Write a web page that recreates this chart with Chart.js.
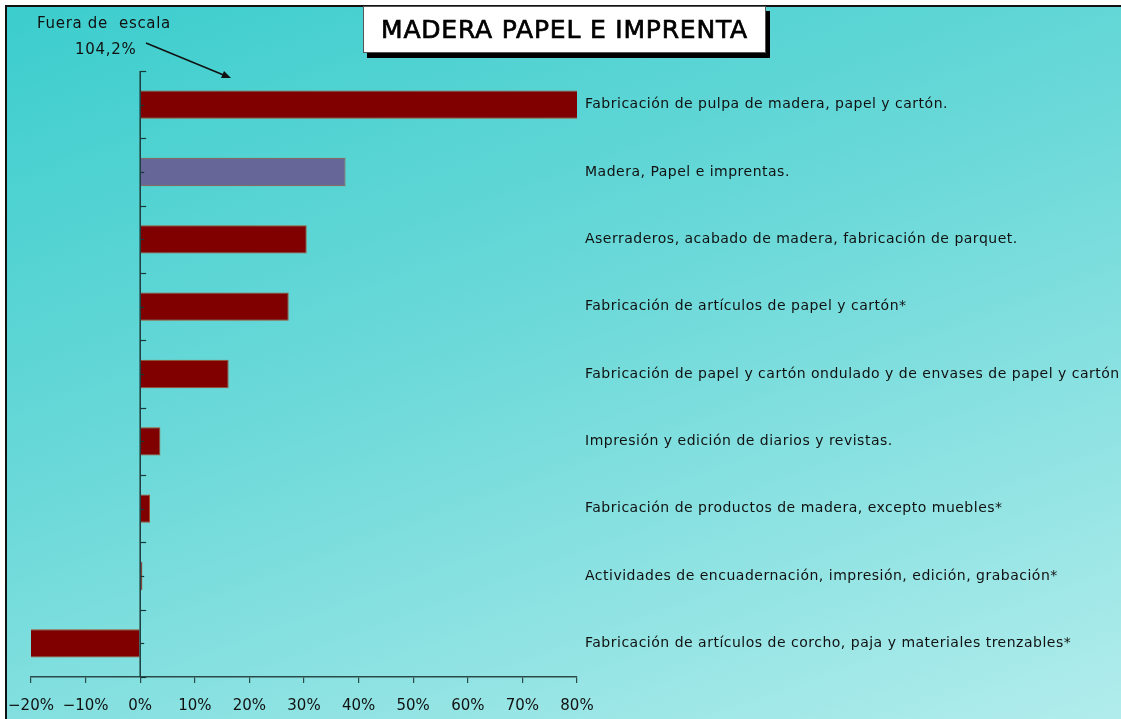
<!DOCTYPE html>
<html>
<head>
<meta charset="utf-8">
<script src="https://cdn.jsdelivr.net/npm/chart.js@4"></script>
<style>
  html, body { margin: 0; padding: 0; background: #fff; }
  #wrap { position: relative; width: 1121px; height: 719px; overflow: hidden; }
  #frame {
    position: absolute; left: 5px; top: 5px; width: 1130px; height: 730px;
    border-left: 2px solid #111; border-top: 2px solid #111;
    background: linear-gradient(160deg, #3ccdcd 0%, #6dd9d9 45%, #b4eded 100%);
  }
  #myChart { position: absolute; left: 0; top: 0; }
  #title {
    position: absolute; left: 363px; top: 6px; width: 401px; height: 45px;
    background: #fff; border: 1px solid #555;
    box-shadow: 4px 5px 0 #000;
    font-family: "DejaVu Sans", sans-serif; font-size: 25px; font-weight: normal;
    -webkit-text-stroke: 0.7px #000;
    line-height: 45px; text-align: center; color: #000; letter-spacing: 0.8px;
    white-space: nowrap;
  }
  .note { position: absolute; font-family: "DejaVu Sans", sans-serif; font-size: 15px; color: #111; letter-spacing: 0.7px; white-space: pre; }
</style>
</head>
<body>
<div id="wrap">
  <div id="frame"></div>
  <canvas id="myChart" width="1121" height="719"></canvas>
  <div id="title">MADERA PAPEL E IMPRENTA</div>
  <div class="note" style="left:37px; top:14px;">Fuera de  escala</div>
  <div class="note" style="left:75px; top:40px;">104,2%</div>
  <svg style="position:absolute; left:0; top:0;" width="300" height="100">
    <line x1="146" y1="43" x2="226" y2="76" stroke="#111" stroke-width="1.5"/>
    <polygon points="231,78 221,78 224,71" fill="#111"/>
  </svg>
</div>
<script>
// categories top to bottom
var categories = [
    'Fabricación de pulpa de madera, papel y cartón.',
    'Madera, Papel e imprentas.',
    'Aserraderos, acabado de madera, fabricación de parquet.',
    'Fabricación de artículos de papel y cartón*',
    'Fabricación de papel y cartón ondulado y de envases de papel y cartón.',
    'Impresión y edición de diarios y revistas.',
    'Fabricación de productos de madera, excepto muebles*',
    'Actividades de encuadernación, impresión, edición, grabación*',
    'Fabricación de artículos de corcho, paja y materiales trenzables*'
];
// variation in %, first one is off scale (104,2%)
var values = [104.2, 37.6, 30.5, 27.2, 16.2, 3.7, 1.8, 0.4, -20.5];
var barColors = ['#800000', '#666699', '#800000', '#800000', '#800000', '#800000', '#800000', '#800000', '#800000'];
var xMin = -20;
var xMax = 80;
var xStep = 10;

var font = '"DejaVu Sans", sans-serif';

// y axis drawn at 0 with ticks, and category labels on the right
var sideLabels = {
    id: 'sideLabels',
    afterDatasetsDraw: function(chart) {
        var ctx = chart.ctx;
        var xs = chart.scales.x;
        var ys = chart.scales.y;
        var area = chart.chartArea;
        var x0 = xs.getPixelForValue(0);
        var step = (area.bottom - area.top) / categories.length;
        ctx.save();
        ctx.strokeStyle = '#1a3a3a';
        ctx.lineWidth = 1.5;
        ctx.beginPath();
        ctx.moveTo(x0, area.top);
        ctx.lineTo(x0, area.bottom);
        ctx.stroke();
        ctx.lineWidth = 1.2;
        for (var i = 0; i <= categories.length; i++) {
            var yb = Math.round(area.top + i * step) + 0.5;
            ctx.beginPath();
            ctx.moveTo(x0, yb);
            ctx.lineTo(x0 + 6, yb);
            ctx.stroke();
        }
        for (var j = 0; j < categories.length; j++) {
            var yc = Math.round(ys.getPixelForValue(j)) + 0.5;
            ctx.beginPath();
            ctx.moveTo(x0, yc);
            ctx.lineTo(x0 + 4, yc);
            ctx.stroke();
        }
        ctx.fillStyle = '#111';
        ctx.font = '14px ' + font;
        ctx.letterSpacing = '0.5px';
        ctx.textBaseline = 'middle';
        ctx.textAlign = 'left';
        categories.forEach(function(c, k) {
            ctx.fillText(c, area.right + 8, ys.getPixelForValue(k));
        });
        ctx.restore();
    }
};

var ctx = document.getElementById('myChart').getContext('2d');
var myChart = new Chart(ctx, {
    type: 'bar',
    data: {
        labels: categories,
        datasets: [{
            data: values,
            backgroundColor: barColors,
            borderColor: '#a0522d',
            borderWidth: 1,
            barPercentage: 0.42,
            categoryPercentage: 1
        }]
    },
    options: {
        indexAxis: 'y',
        responsive: false,
        animation: false,
        layout: { padding: { left: 31, right: 544, top: 71, bottom: 0 } },
        plugins: { legend: { display: false }, tooltip: { enabled: false } },
        scales: {
            x: {
                min: xMin,
                max: xMax,
                afterFit: function(scale) {
                    scale.height = 42;
                    scale.paddingLeft = 0;
                    scale.paddingRight = 0;
                },
                grid: { drawOnChartArea: false, drawTicks: true, tickLength: 6, color: '#2a4a4a', lineWidth: 1.2 },
                border: { display: true, color: '#2a4a4a', width: 1.5 },
                ticks: {
                    stepSize: xStep,
                    color: '#111',
                    font: { family: font, size: 15 },
                    padding: 14,
                    maxRotation: 0,
                    callback: function(v) { return (v < 0 ? '\u2212' + Math.abs(v) : v) + '%'; }
                }
            },
            y: {
                display: false,
                grid: { display: false }
            }
        }
    },
    plugins: [sideLabels]
});
</script>
</body>
</html>
